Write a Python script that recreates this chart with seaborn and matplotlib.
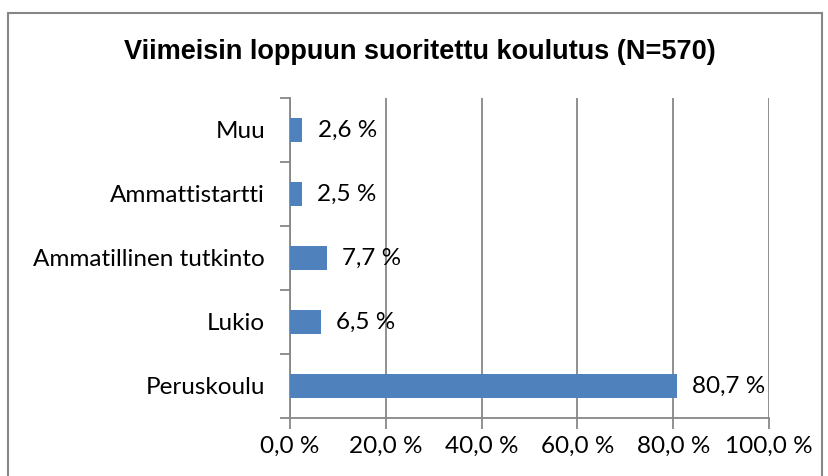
import matplotlib
matplotlib.use("Agg")
import matplotlib.pyplot as plt
import seaborn as sns
import pandas as pd
from matplotlib.patches import Rectangle
from matplotlib.ticker import FixedLocator

categories = ["Muu", "Ammattistartti", "Ammatillinen tutkinto", "Lukio", "Peruskoulu"]
values = [2.6, 2.5, 7.7, 6.5, 80.7]
x_ticks = [0, 20, 40, 60, 80, 100]
x_tick_labels = ["0,0 %", "20,0 %", "40,0 %", "60,0 %", "80,0 %", "100,0 %"]
title = "Viimeisin loppuun suoritettu koulutus (N=570)"

sns.set_style("white")
plt.rcParams["font.family"] = ["Lato", "DejaVu Sans"]
plt.rcParams["text.color"] = "black"

df = pd.DataFrame({"cat": categories, "val": values})

fig = plt.figure(figsize=(8.29, 4.76), dpi=100)
ax = fig.add_axes([290/829, 1-418/476, (769-290)/829, (418-98)/476])

sns.barplot(data=df, y="cat", x="val", order=categories, orient="h",
            color="#4F81BD", saturation=1, width=0.39, linewidth=0, ax=ax, zorder=3)

ax.set_xlim(0, 100)
ax.set_ylim(4.5, -0.5)
ax.set_xlabel("")
ax.set_ylabel("")

fs = 17.5
grid_c = "#878787"
ax.set_xticks(x_ticks)
ax.set_xticklabels(x_tick_labels, fontsize=fs, color="black")
ax.tick_params(axis="x", direction="out", length=8, width=1.3, color=grid_c, pad=5, bottom=True)
ax.grid(axis="x", color=grid_c, linewidth=1.3, zorder=0)
ax.grid(axis="y", visible=False)
ax.set_axisbelow(True)

ax.set_yticks(range(len(categories)))
ax.set_yticklabels(categories, fontsize=fs, color="black")
ax.tick_params(axis="y", which="major", length=0, pad=18)
ax.yaxis.set_minor_locator(FixedLocator([i - 0.5 for i in range(len(categories) + 1)]))
ax.tick_params(axis="y", which="minor", direction="out", length=7, width=1.3, color=grid_c, left=True)

for s in ["top", "right"]:
    ax.spines[s].set_visible(False)
for s in ["left", "bottom"]:
    ax.spines[s].set_color(grid_c)
    ax.spines[s].set_linewidth(1.3)

for i, v in enumerate(values):
    txt = f"{v:.1f}".replace(".", ",") + " %"
    ax.annotate(txt, xy=(v, i), xytext=(11, 0), textcoords="offset points",
                ha="left", va="center", fontsize=fs, color="black")

fig.text(0.506, 1-52/476, title, ha="center", va="center", fontsize=19.5,
         fontweight="bold", color="black", family=["Liberation Sans", "DejaVu Sans"])

fig.patches.append(Rectangle((8/829, -0.1), (822-8)/829, 1.1 - 13/476,
                             transform=fig.transFigure, fill=False,
                             edgecolor="#868686", linewidth=1.5))

fig.savefig("out.png", dpi=100)
